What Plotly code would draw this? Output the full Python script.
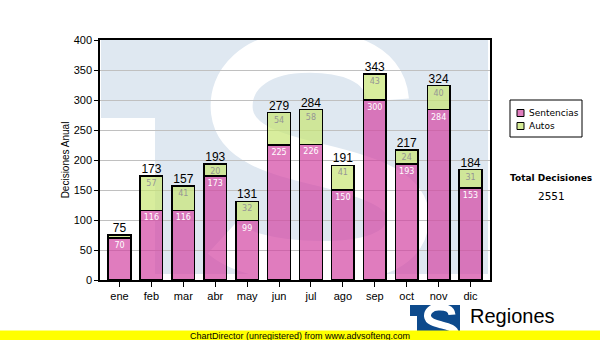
import plotly.graph_objects as go

# ---- data -------------------------------------------------------------
months = ["ene", "feb", "mar", "abr", "may", "jun",
          "jul", "ago", "sep", "oct", "nov", "dic"]
sentencias = [70, 116, 116, 173, 99, 225, 226, 150, 300, 193, 284, 153]
autos = [5, 57, 41, 20, 32, 54, 58, 41, 43, 24, 40, 31]
series_names = ["Sentencias", "Autos"]
y_title = "Decisiones Anual"
total_title = "Total Decisiones"

totals = [s + a for s, a in zip(sentencias, autos)]
total_decisiones = sum(totals)

# ---- styling ----------------------------------------------------------
PINK = "rgba(211,69,162,0.7)"
GREEN = "rgba(200,230,115,0.7)"
PINK_SOLID = "#e07dbe"
GREEN_SOLID = "#d6ec96"
WATERMARK_BLUE = "#dfe8f1"
LOGO_BLUE = "#0d4a8c"
AXIS_FONT = "Liberation Sans, Arial, sans-serif"
LABEL_FONT = "DejaVu Sans, Verdana, sans-serif"

W, H = 600, 340
ML, MR, MT, MB = 100, 110, 40, 60
PW, PH = W - ML - MR, H - MT - MB


def px_x(px):
    """Figure pixel column -> paper/domain x."""
    return (px - ML) / PW


def px_y(py):
    """Figure pixel row -> paper/domain y."""
    return (MT + PH - py) / PH


def fmt_small(v, minimum=10):
    return str(v) if v >= minimum else ""


fig = go.Figure()

fig.add_trace(go.Bar(
    x=months, y=sentencias, name=series_names[0],
    marker=dict(color=PINK, line=dict(color="black", width=1.5)),
    text=[fmt_small(v) for v in sentencias],
    textposition="inside", insidetextanchor="end", textangle=0,
    constraintext="none",
    insidetextfont=dict(family=LABEL_FONT, size=8, color="white"),
    hoverinfo="x+y+name",
))
fig.add_trace(go.Bar(
    x=months, y=autos, name=series_names[1],
    marker=dict(color=GREEN, line=dict(color="black", width=1.5)),
    text=[fmt_small(v) for v in autos],
    textposition="inside", insidetextanchor="end", textangle=0,
    constraintext="none",
    insidetextfont=dict(family=LABEL_FONT, size=8, color="#959595"),
    hoverinfo="x+y+name",
))
# stack totals written above each column
fig.add_trace(go.Scatter(
    x=months, y=totals, mode="text",
    text=[str(t) for t in totals], textposition="top center",
    textfont=dict(family=AXIS_FONT, size=12, color="black"),
    hoverinfo="skip", showlegend=False, cliponaxis=False,
))

# ---- background watermark (faded "TS" emblem) ---------------------------
# S centre-line, in figure pixels for the large emblem
S_POINTS = [
    ("M", [(388, 100)]),
    ("C", [(385, 60), (340, 50), (300, 52)]),
    ("C", [(255, 54), (228, 80), (232, 112)]),
    ("C", [(236, 145), (280, 155), (320, 165)]),
    ("C", [(370, 177), (410, 190), (408, 220)]),
    ("C", [(406, 255), (360, 262), (320, 262)]),
    ("C", [(270, 262), (235, 250), (222, 238)]),
]
S_BOX = (190, 45, 230, 235)  # x, y, w, h of the emblem S


def s_path(box_to):
    bx, by, bw, bh = S_BOX
    tx, ty, tw, th = box_to
    parts = []
    for cmd, pts in S_POINTS:
        coords = []
        for px, py in pts:
            u, v = (px - bx) / bw, (py - by) / bh
            coords.append(f"{px_x(tx + u * tw):.4f},{px_y(ty + v * th):.4f}")
        parts.append(cmd + " " + " ".join(coords))
    return " ".join(parts)


shapes = [
    dict(type="rect", xref="paper", yref="paper", layer="below",
         x0=px_x(101), x1=px_x(488), y0=px_y(274), y1=px_y(40),
         fillcolor=WATERMARK_BLUE, line=dict(width=0)),
    dict(type="rect", xref="paper", yref="paper", layer="below",
         x0=px_x(100), x1=px_x(155), y0=px_y(274), y1=px_y(118),
         fillcolor="white", line=dict(width=0)),
    dict(type="path", xref="paper", yref="paper", layer="below",
         path=s_path(S_BOX), line=dict(color="white", width=42)),
]

# ---- custom legend ------------------------------------------------------
shapes.append(dict(type="rect", xref="paper", yref="paper",
                   x0=px_x(510), x1=px_x(582), y0=px_y(137), y1=px_y(100),
                   fillcolor="white", line=dict(color="black", width=1)))
annotations = []
for i, (name, col) in enumerate(zip(series_names, [PINK_SOLID, GREEN_SOLID])):
    cy = 113 + i * 13
    shapes.append(dict(type="rect", xref="paper", yref="paper",
                       x0=px_x(517), x1=px_x(524),
                       y0=px_y(cy + 3.5), y1=px_y(cy - 3.5),
                       fillcolor=col, line=dict(color="black", width=1)))
    annotations.append(dict(xref="paper", yref="paper", x=px_x(527),
                            y=px_y(cy), xanchor="left", yanchor="middle",
                            text=name, showarrow=False,
                            font=dict(family=LABEL_FONT, size=9, color="black")))

annotations += [
    dict(xref="paper", yref="paper", x=px_x(551), y=px_y(178),
         xanchor="center", yanchor="middle", showarrow=False,
         text=f"<b>{total_title}</b>",
         font=dict(family=LABEL_FONT, size=9, color="black")),
    dict(xref="paper", yref="paper", x=px_x(551), y=px_y(196),
         xanchor="center", yanchor="middle", showarrow=False,
         text=str(total_decisiones),
         font=dict(family=LABEL_FONT, size=10.5, color="black")),
]

# ---- footer: emblem, caption and banner ---------------------------------
shapes += [
    dict(type="rect", xref="paper", yref="paper", layer="above",
         x0=px_x(410), x1=px_x(460), y0=px_y(340), y1=px_y(305),
         fillcolor=LOGO_BLUE, line=dict(width=0)),
    dict(type="rect", xref="paper", yref="paper", layer="above",
         x0=px_x(410), x1=px_x(417), y0=px_y(340), y1=px_y(316),
         fillcolor="white", line=dict(width=0)),
    dict(type="path", xref="paper", yref="paper", layer="above",
         path=s_path((421, 306, 36, 37)), line=dict(color="white", width=7)),
    dict(type="rect", xref="paper", yref="paper", layer="above",
         x0=px_x(0), x1=px_x(W), y0=px_y(H), y1=px_y(330.5),
         fillcolor="#ffff00", line=dict(width=0)),
]
annotations += [
    dict(xref="paper", yref="paper", x=px_x(468), y=px_y(316),
         xanchor="left", yanchor="middle", showarrow=False,
         text="Regiones", font=dict(family=AXIS_FONT, size=20, color="black")),
    dict(xref="paper", yref="paper", x=px_x(300), y=px_y(335.5),
         xanchor="center", yanchor="middle", showarrow=False,
         text="ChartDirector (unregistered) from www.advsofteng.com",
         font=dict(family=AXIS_FONT, size=9, color="black")),
]

fig.update_layout(
    width=W, height=H, autosize=False,
    margin=dict(l=ML, r=MR, t=MT, b=MB, pad=0),
    barmode="stack", bargap=0.29,
    paper_bgcolor="white", plot_bgcolor="rgba(0,0,0,0)",
    showlegend=False,
    shapes=shapes, annotations=annotations,
    xaxis=dict(
        type="category", showgrid=False, zeroline=False,
        showline=True, linecolor="black", linewidth=1.5, mirror=True,
        ticks="outside", ticklen=5, tickcolor="black", tickwidth=1,
        tickfont=dict(family=AXIS_FONT, size=11, color="black"),
    ),
    yaxis=dict(
        range=[0, 400], dtick=50, zeroline=False,
        showgrid=True, gridcolor="#c0c0c0", gridwidth=1,
        showline=True, linecolor="black", linewidth=1.5, mirror=True,
        ticks="outside", ticklen=4, tickcolor="black", tickwidth=1,
        tickfont=dict(family=AXIS_FONT, size=11, color="black"),
        title=dict(text=y_title, standoff=2,
                   font=dict(family=AXIS_FONT, size=10, color="black")),
    ),
)

fig.write_html("out.html", config={"displayModeBar": False})
